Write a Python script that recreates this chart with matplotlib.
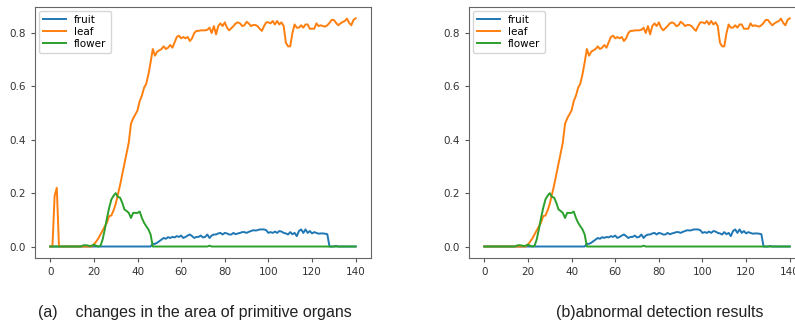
import matplotlib
matplotlib.use("Agg")
import matplotlib.pyplot as plt
import numpy as np

# frame index 0..140
frames = list(range(141))

fruit = [0.0] * 47 + [
    0.010, 0.010, 0.014, 0.020, 0.026, 0.032, 0.029, 0.035, 0.032, 0.036,   # 47-56
    0.034, 0.039, 0.036, 0.041, 0.032, 0.036, 0.041, 0.045, 0.039, 0.032,   # 57-66
    0.036, 0.036, 0.041, 0.034, 0.036, 0.045, 0.032, 0.041, 0.045, 0.045,   # 67-76
    0.049, 0.051, 0.045, 0.051, 0.049, 0.045, 0.045, 0.051, 0.046, 0.049,   # 77-86
    0.051, 0.054, 0.054, 0.051, 0.055, 0.058, 0.061, 0.060, 0.061, 0.064,   # 87-96
    0.064, 0.064, 0.061, 0.051, 0.054, 0.051, 0.056, 0.051, 0.058, 0.056,   # 97-106
    0.051, 0.049, 0.045, 0.054, 0.046, 0.051, 0.039, 0.058, 0.064, 0.051,   # 107-116
    0.064, 0.051, 0.058, 0.049, 0.054, 0.051, 0.048, 0.049, 0.049, 0.048,   # 117-126
    0.046, 0.0, 0.0, 0.0, 0.002, 0.0, 0.0, 0.0, 0.0, 0.0,                   # 127-136
    0.0, 0.0, 0.0, 0.0,                                                     # 137-140
]

leaf_a = [0.0, 0.0, 0.19, 0.22, 0.0] + [0.0] * 15 + [
    0.008, 0.018, 0.030, 0.045, 0.060, 0.075, 0.090, 0.114, 0.116, 0.135,   # 20-29
    0.160, 0.195, 0.230, 0.270, 0.310, 0.350, 0.390, 0.460, 0.480, 0.495,   # 30-39
    0.510, 0.545, 0.565, 0.595, 0.610, 0.645, 0.690, 0.740, 0.715, 0.730,   # 40-49
    0.735, 0.740, 0.750, 0.740, 0.745, 0.755, 0.745, 0.765, 0.785, 0.790,   # 50-59
    0.780, 0.785, 0.780, 0.785, 0.770, 0.780, 0.800, 0.808, 0.808, 0.810,   # 60-69
    0.810, 0.810, 0.812, 0.820, 0.800, 0.826, 0.795, 0.826, 0.836, 0.826,   # 70-79
    0.840, 0.820, 0.810, 0.818, 0.826, 0.836, 0.840, 0.836, 0.826, 0.829,   # 80-89
    0.842, 0.836, 0.826, 0.830, 0.830, 0.826, 0.816, 0.808, 0.826, 0.840,   # 90-99
    0.840, 0.836, 0.845, 0.832, 0.845, 0.832, 0.840, 0.826, 0.764, 0.750,   # 100-109
    0.750, 0.800, 0.832, 0.820, 0.820, 0.829, 0.820, 0.832, 0.832, 0.816,   # 110-119
    0.816, 0.816, 0.836, 0.826, 0.829, 0.826, 0.824, 0.829, 0.838, 0.849,   # 120-129
    0.849, 0.838, 0.829, 0.836, 0.841, 0.845, 0.854, 0.838, 0.829, 0.849,   # 130-139
    0.855,                                                                  # 140
]
# (b) with the false leaf detection at the start removed
leaf_b = [0.0] * 5 + leaf_a[5:]

flower = [0.0] * 15 + [
    0.004, 0.005, 0.004, 0.002, 0.003, 0.007, 0.003, 0.000, 0.002,          # 15-23
    0.026, 0.064, 0.107, 0.145, 0.176, 0.190, 0.200, 0.186, 0.183, 0.164,   # 24-33
    0.139, 0.133, 0.126, 0.107, 0.126, 0.126, 0.126, 0.131, 0.107, 0.089,   # 34-43
    0.076, 0.064, 0.045, 0.0,                                               # 44-47
] + [0.0] * 25 + [0.003] + [0.0] * 67

captions = ["(a)    changes in the area of primitive organs",
            "(b)abnormal detection results"]
names = ["fruit", "leaf", "flower"]
colors = ["#1f77b4", "#ff7f0e", "#2ca02c"]

fig = plt.figure(figsize=(7.95, 3.22), dpi=100)
axes = [fig.add_axes([0.044, 0.199, 0.4226, 0.7795]),
        fig.add_axes([0.590, 0.199, 0.4226, 0.7795])]

for ax, leaf in zip(axes, [leaf_a, leaf_b]):
    for s, n, c in zip([fruit, leaf, flower], names, colors):
        ax.plot(frames, s, color=c, lw=1.4, label=n)
    ax.set_yticks([0.0, 0.2, 0.4, 0.6, 0.8])
    ax.set_xticks([0, 20, 40, 60, 80, 100, 120, 140])
    ax.tick_params(labelsize=7.5, colors="#555555", labelcolor="#333333", length=3)
    for sp in ax.spines.values():
        sp.set_color("#666666")
    ax.legend(loc="upper left", fontsize=7.5, handlelength=2.2,
              borderaxespad=0.35, labelspacing=0.2, edgecolor="#cccccc")

fig.text(195 / 795, 1 - 313 / 322, captions[0], ha="center", va="center",
         fontsize=11.5, family="Liberation Sans", color="#222222")
fig.text(660 / 795, 1 - 313 / 322, captions[1], ha="center", va="center",
         fontsize=11.5, family="Liberation Sans", color="#222222")

fig.savefig("out.png", dpi=100)
